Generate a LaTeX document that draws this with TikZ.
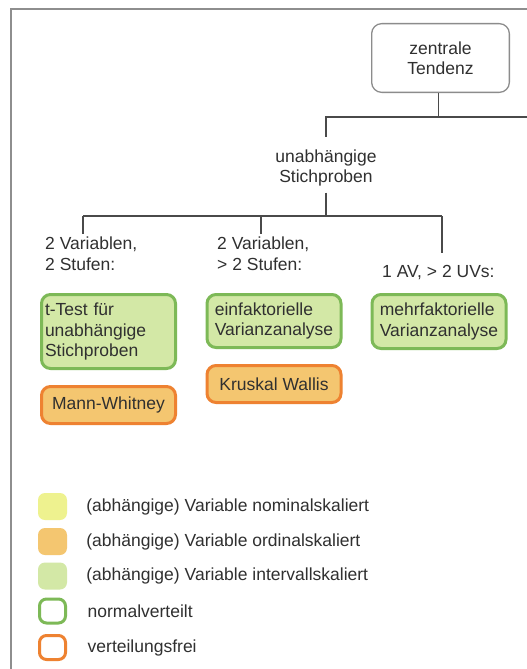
\documentclass[tikz,border=0pt]{standalone}
\usepackage{fontspec}
\setmainfont{Liberation Sans}

\definecolor{framegray}{HTML}{8E8E8E}
\definecolor{boxgray}{HTML}{8C8C8C}
\definecolor{linegray}{HTML}{4A4A4A}
\definecolor{txt}{HTML}{303030}
\definecolor{nomfill}{HTML}{EEF28F}
\definecolor{ordfill}{HTML}{F4C670}
\definecolor{intfill}{HTML}{D3E8A6}
\definecolor{normline}{HTML}{7DB957}
\definecolor{freeline}{HTML}{EE8231}

\tikzset{
  frame/.style={draw=framegray, line width=2.2pt},
  tbox/.style={draw=boxgray, line width=1.3pt, rounded corners=10pt, fill=white,
    align=center, minimum width=137.7pt, minimum height=68.7pt, inner sep=0pt},
  lbl/.style={inner sep=0pt, align=left},
  testbox/.style={line width=3pt, rounded corners=9pt, align=left, inner sep=0pt,
    minimum width=134pt},
  normbox/.style={testbox, draw=normline, fill=intfill},
  freebox/.style={testbox, draw=freeline, fill=ordfill, minimum height=37pt},
  conn/.style={draw=linegray, line width=1.6pt},
  legsq/.style={rounded corners=7pt, minimum width=29pt, minimum height=27pt, inner sep=0pt},
  legring/.style={legsq, line width=3pt, minimum width=26pt, minimum height=24pt, fill=white},
  legtxt/.style={anchor=west, inner sep=0pt}
}

\begin{document}
\begin{tikzpicture}[x=1pt, y=-1pt, font=\fontsize{17.5pt}{20.5pt}\selectfont, text=txt]
\useasboundingbox (0,0) rectangle (527,669);
\fill[white] (0,0) rectangle (527,669);
\draw[frame] (11,669) -- (11,9) -- (527,9);

% root and first split
\node[tbox] (top) at (440.5,58) {zentrale\\Tendenz};
\node[lbl, align=center] (unab) at (326,168) {unabhängige\\Stichproben};

% branch labels (base = baseline of the last line)
\node[lbl, anchor=base west] (lA) at (45,270) {2 Variablen,\\2 Stufen:};
\node[lbl, anchor=base west] (lB) at (217,270) {2 Variablen,\\> 2 Stufen:};
\node[lbl, anchor=base west] (lC) at (382,277) {1 AV, > 2 UVs:};

% tests
\node[normbox, text width=127pt, inner xsep=3.5pt, minimum height=74pt] (gA) at (108.5,331.5)
  {t-Test für\\unabhängige\\Stichproben};
\node[freebox] (oA) at (108.5,405) {Mann-Whitney};
\node[normbox, minimum height=53pt] (gB) at (274,321) {einfaktorielle\\Varianzanalyse};
\node[freebox] (oB) at (274,384) {Kruskal Wallis};
\node[normbox, minimum height=54pt] (gC) at (439,321.5) {mehrfaktorielle\\Varianzanalyse};

% connectors
\coordinate (redge) at (527,117);
\coordinate (split) at (326,216);
\coordinate (kA) at (83,216);
\coordinate (kB) at (261,216);
\coordinate (kC) at (442,216);
\draw[conn] ([xshift=-2pt]top.south) -- ([xshift=-2pt]top.south |- redge);
\draw[conn] (redge) -- (unab.north |- redge) -- ([yshift=12pt]unab.north);
\draw[conn] ([yshift=-6pt]unab.south) -- (split);
\draw[conn] (kA) -- (kC);
\draw[conn] (kA) -- ([yshift=3pt]kA |- lA.north);
\draw[conn] (kB) -- ([yshift=3pt]kB |- lB.north);
\draw[conn] (kC) -- ++(0,37);

% legend
\node[legsq, fill=nomfill] (l1) at (52.5,506.5) {};
\node[legsq, fill=ordfill] (l2) at (52.5,541.5) {};
\node[legsq, fill=intfill] (l3) at (52.5,576) {};
\node[legring, draw=normline] (l4) at (52.5,611) {};
\node[legring, draw=freeline] (l5) at (52.5,647.5) {};
\node[legtxt] (t1) at ([xshift=19pt]l1.east) {(abhängige) Variable nominalskaliert};
\node[legtxt] (t2) at ([xshift=19pt]l2.east) {(abhängige) Variable ordinalskaliert};
\node[legtxt] (t3) at ([xshift=19pt]l3.east) {(abhängige) Variable intervallskaliert};
\node[legtxt] (t4) at ([xshift=20.5pt]l4.east) {normalverteilt};
\node[legtxt] (t5) at ([xshift=20.5pt]l5.east) {verteilungsfrei};
\end{tikzpicture}
\end{document}
